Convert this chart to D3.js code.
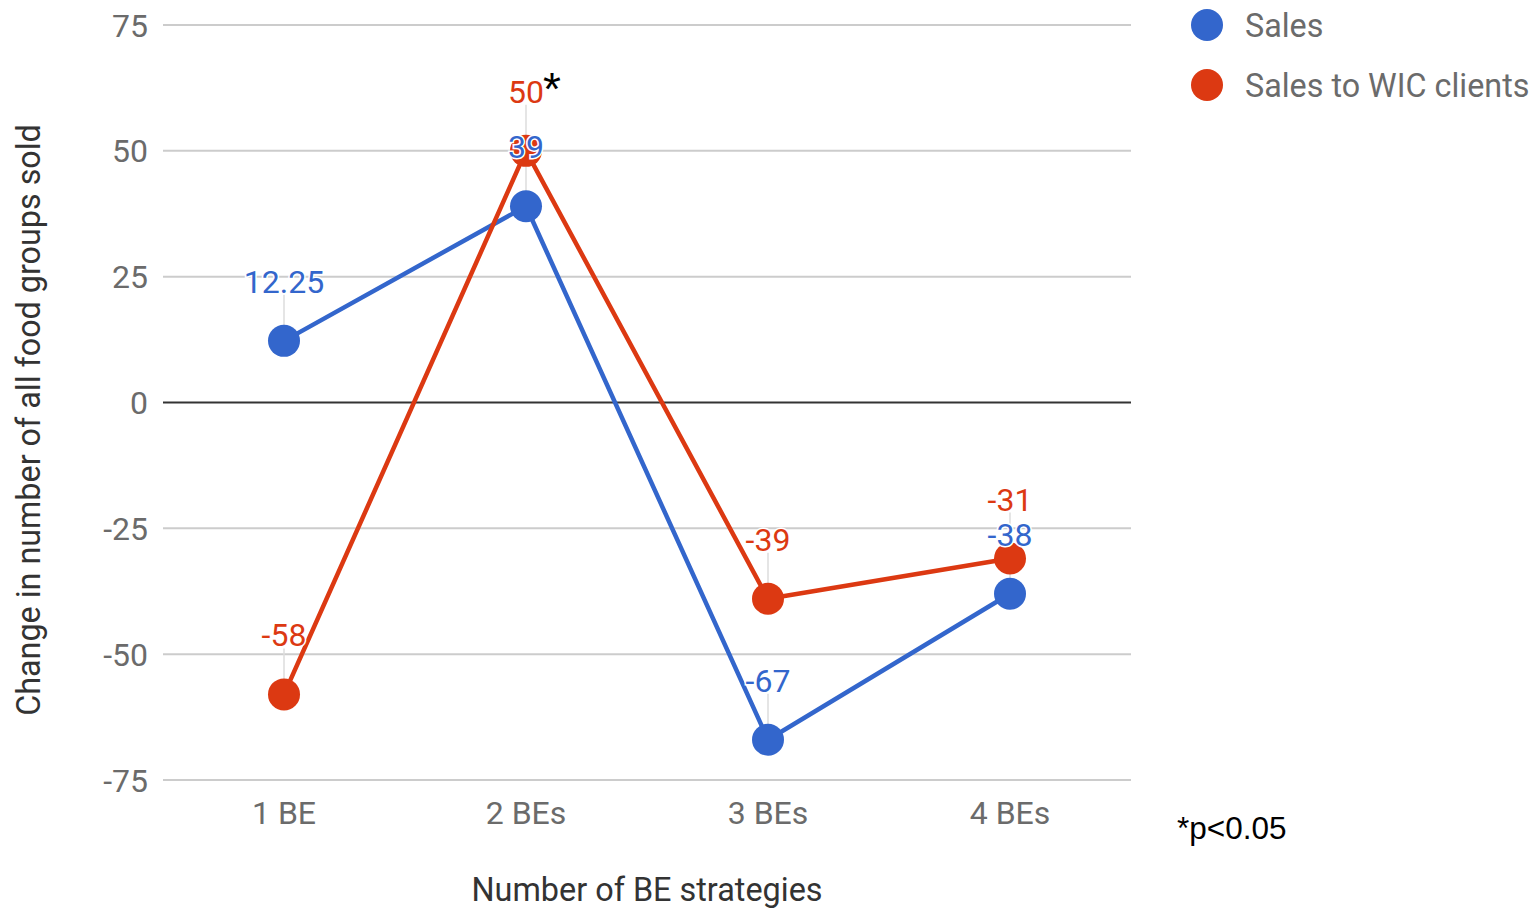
<!DOCTYPE html>
<html>
<head>
<meta charset="utf-8">
<script src="https://cdn.jsdelivr.net/npm/d3@7"></script>
<style>
  html, body { margin: 0; padding: 0; background: #fff; }
  svg { display: block; }
</style>
</head>
<body>
<svg id="chart" width="1537" height="911"></svg>
<script>
const categories = ["1 BE", "2 BEs", "3 BEs", "4 BEs"];
const salesValues = [12.25, 39, -67, -38];
const wicValues = [-58, 50, -39, -31];
const seriesNames = ["Sales", "Sales to WIC clients"];
const seriesColors = ["#3366CC", "#DC3912"];
const yTicks = [-75, -50, -25, 0, 25, 50, 75];
const yTitle = "Change in number of all food groups sold";
const xTitle = "Number of BE strategies";
const footnote = "*p<0.05";
const significantMark = { series: 1, index: 1, text: "*" };

const series = [
  { name: seriesNames[0], color: seriesColors[0], values: salesValues },
  { name: seriesNames[1], color: seriesColors[1], values: wicValues }
];

const svg = d3.select("#chart");
const plot = { left: 163, right: 1131, top: 25, bottom: 780 };

const x = d3.scaleBand().domain(categories).range([plot.left, plot.right]);
const y = d3.scaleLinear().domain([-75, 75]).range([plot.bottom, plot.top]);
const cx = c => x(c) + x.bandwidth() / 2;

// gridlines
svg.append("g").selectAll("line").data(yTicks).join("line")
  .attr("x1", plot.left).attr("x2", plot.right)
  .attr("y1", d => y(d)).attr("y2", d => y(d))
  .attr("stroke", d => d === 0 ? "#333" : "#ccc")
  .attr("stroke-width", 2);

// y tick labels
svg.append("g").selectAll("text").data(yTicks).join("text")
  .attr("x", 148).attr("y", d => y(d))
  .attr("dy", "0.36em")
  .attr("text-anchor", "end")
  .attr("font-family", "Roboto, Arial, sans-serif")
  .attr("font-size", 32)
  .attr("fill", "#6b6b6b")
  .text(d => d);

// x tick labels
svg.append("g").selectAll("text").data(categories).join("text")
  .attr("x", d => cx(d)).attr("y", 812)
  .attr("dy", "0.36em")
  .attr("text-anchor", "middle")
  .attr("font-family", "Roboto, Arial, sans-serif")
  .attr("font-size", 32)
  .attr("fill", "#6b6b6b")
  .text(d => d);

// axis titles
svg.append("text")
  .attr("x", 647).attr("y", 889).attr("dy", "0.36em")
  .attr("text-anchor", "middle")
  .attr("font-family", "Roboto, Arial, sans-serif")
  .attr("font-size", 32.4)
  .attr("fill", "#333")
  .text(xTitle);

svg.append("text")
  .attr("transform", "translate(28,420) rotate(-90)")
  .attr("dy", "0.36em")
  .attr("text-anchor", "middle")
  .attr("font-family", "Roboto, Arial, sans-serif")
  .attr("font-size", 32.3)
  .attr("fill", "#333")
  .text(yTitle);

const line = d3.line().x((d, i) => cx(categories[i])).y(d => y(d));

// stems for annotations
series.forEach(s => {
  svg.append("g").selectAll("line").data(s.values).join("line")
    .attr("x1", (d, i) => cx(categories[i])).attr("x2", (d, i) => cx(categories[i]))
    .attr("y1", d => y(d)).attr("y2", d => y(d) - 46)
    .attr("stroke", "#ddd").attr("stroke-width", 1.5);
});

// lines
series.forEach(s => {
  svg.append("path").datum(s.values)
    .attr("d", line)
    .attr("fill", "none")
    .attr("stroke", s.color)
    .attr("stroke-width", 4.5);
});

// points
series.forEach(s => {
  svg.append("g").selectAll("circle").data(s.values).join("circle")
    .attr("cx", (d, i) => cx(categories[i]))
    .attr("cy", d => y(d))
    .attr("r", 16)
    .attr("fill", s.color);
});

// annotations
series.forEach(s => {
  svg.append("g").selectAll("text").data(s.values).join("text")
    .attr("x", (d, i) => cx(categories[i]))
    .attr("y", d => y(d) - 48)
    .attr("text-anchor", "middle")
    .attr("font-family", "Roboto, Arial, sans-serif")
    .attr("font-size", 32)
    .attr("fill", s.color)
    .attr("stroke", "#fff")
    .attr("stroke-width", 3)
    .attr("paint-order", "stroke")
    .text(d => d);
});

// significance asterisk
{
  const v = series[significantMark.series].values[significantMark.index];
  svg.append("text")
    .attr("x", cx(categories[significantMark.index]) + 17)
    .attr("y", y(v) - 46)
    .attr("font-family", "Liberation Sans, Arial, sans-serif")
    .attr("font-size", 46)
    .attr("fill", "#000")
    .text(significantMark.text);
}

// legend
const legend = svg.append("g");
series.forEach((s, i) => {
  const ly = 25 + i * 60;
  legend.append("circle").attr("cx", 1207).attr("cy", ly).attr("r", 16).attr("fill", s.color);
  legend.append("text")
    .attr("x", 1245).attr("y", ly).attr("dy", "0.36em")
    .attr("font-family", "Roboto, Arial, sans-serif")
    .attr("font-size", 32.3)
    .attr("fill", "#6b6b6b")
    .text(s.name);
});

// footnote
svg.append("text")
  .attr("x", 1177).attr("y", 828).attr("dy", "0.36em")
  .attr("font-family", "Liberation Sans, Arial, sans-serif")
  .attr("font-size", 31.5)
  .attr("fill", "#000")
  .text(footnote);
</script>
</body>
</html>
